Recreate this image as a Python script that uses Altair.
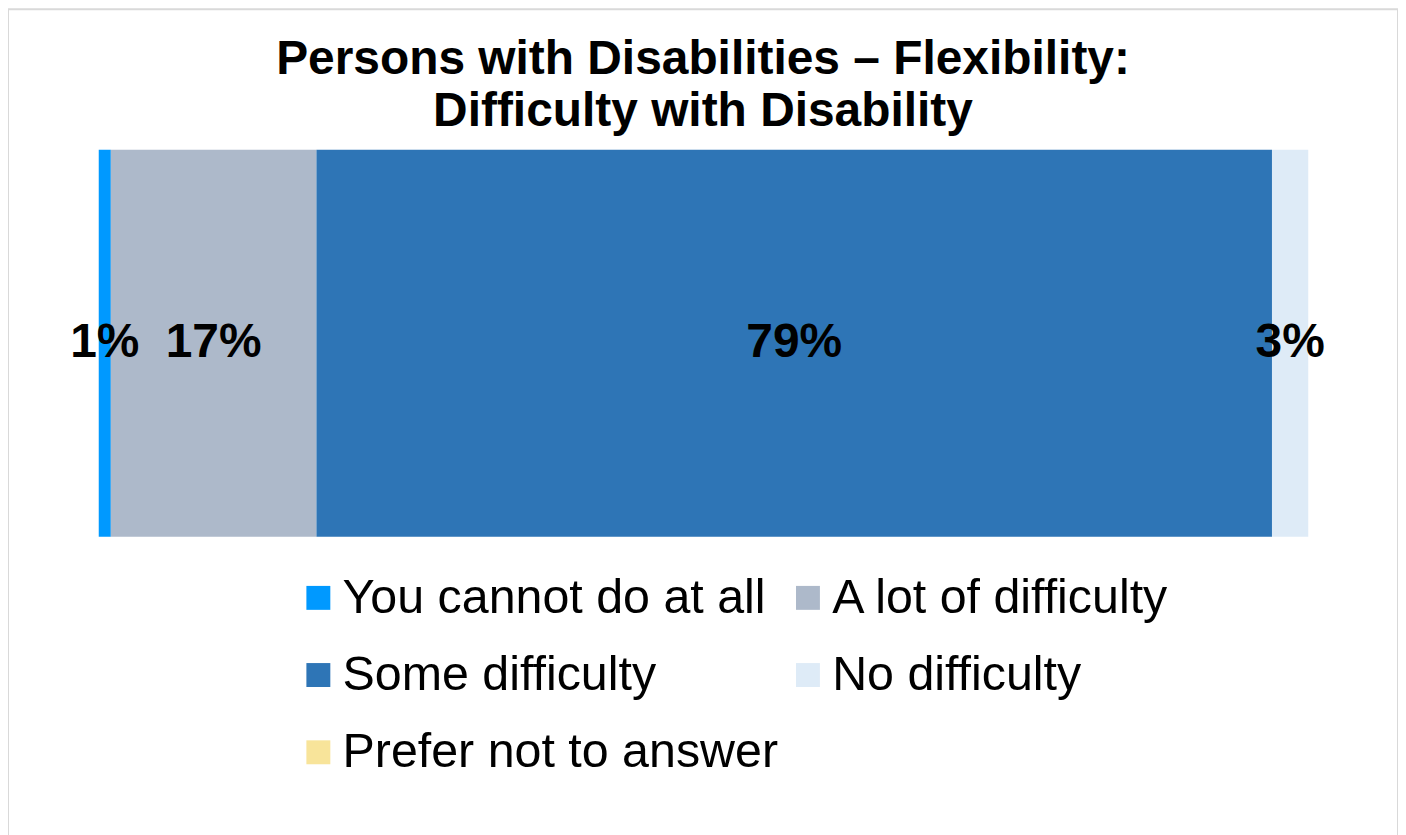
import altair as alt
import pandas as pd

categories = ["You cannot do at all", "A lot of difficulty", "Some difficulty",
              "No difficulty", "Prefer not to answer"]
values = [1, 17, 79, 3, 0]
colors = ["#0099FF", "#ADB9CA", "#2E75B6", "#DEEBF7", "#F8E49A"]
row_name = "Flexibility"
title_lines = ["Persons with Disabilities \u2013 Flexibility:", "Difficulty with Disability"]

# legend fills column by column: reorder so it reads row by row like the reference
legend_order = [0, 2, 4, 1, 3]
legend_domain = [categories[i] for i in legend_order]
legend_range = [colors[i] for i in legend_order]

df = pd.DataFrame({
    "row": [row_name] * len(categories),
    "category": categories,
    "value": values,
    "order": list(range(len(categories))),
})

FONT = "Liberation Sans"
W, H = 1394, 832

x_scale = alt.Scale(domain=[0, 100], range=[91, 1304])
y_scale = alt.Scale(range=[141, 529], paddingInner=0, paddingOuter=0)

base = alt.Chart(df).transform_stack(
    stack="value", groupby=["row"], as_=["x0", "x1"], sort=[alt.SortField("order")]
)

bars = base.mark_bar().encode(
    x=alt.X("x0:Q", scale=x_scale, axis=None),
    x2="x1:Q",
    y=alt.Y("row:N", scale=y_scale, axis=None),
    color=alt.Color(
        "category:N",
        scale=alt.Scale(domain=legend_domain, range=legend_range),
        legend=alt.Legend(
            title=None, orient="none", legendX=287, legendY=566, columns=2,
            symbolType="square", symbolSize=576, symbolStrokeWidth=0,
            symbolOpacity=1, labelFontSize=48.5, labelFont=FONT,
            labelColor="black", labelOffset=0, columnPadding=5,
            rowPadding=28.5, labelLimit=800,
        ),
    ),
)

text = base.transform_filter("datum.value > 0").transform_calculate(
    mid="(datum.x0 + datum.x1) / 2", lab="datum.value + '%'"
).mark_text(font=FONT, fontSize=48, fontWeight="bold", color="black").encode(
    x=alt.X("mid:Q", scale=x_scale, axis=None),
    y=alt.Y("row:N", scale=y_scale, axis=None),
    text="lab:N",
)

chart = alt.layer(bars, text).properties(
    width=W, height=H,
    title=alt.TitleParams(
        title_lines, fontSize=48, font=FONT, fontWeight="bold", anchor="middle",
        offset=-175, lineHeight=52, color="black", baseline="bottom",
    ),
).configure(padding=0).configure_view(stroke="#D9D9D9", strokeWidth=2)

chart.save("out.html", embed_options={"renderer": "svg", "actions": False})
